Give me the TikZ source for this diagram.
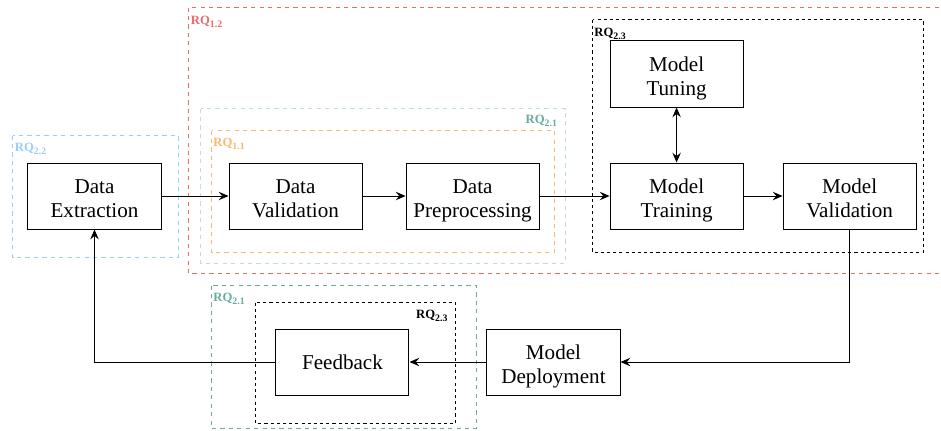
\documentclass[tikz,border=0pt]{standalone}
\usepackage{fontspec}
\setmainfont{Liberation Serif}
\usepackage{tikz}
\usetikzlibrary{arrows.meta,positioning}

\definecolor{RQred}{RGB}{234,107,102}
\definecolor{RQteal}{RGB}{103,171,159}
\definecolor{RQtealLight}{RGB}{190,222,216}
\definecolor{RQorange}{RGB}{255,181,112}
\definecolor{RQblue}{RGB}{153,204,255}

\newcommand{\rqlab}[1]{RQ\raisebox{-2.2pt}{\fontsize{7}{7}\selectfont #1}}
\newcommand{\twolines}[2]{\rule{0pt}{17.7pt}#1\\#2\rule[-4pt]{0pt}{4pt}}

\begin{document}
\begin{tikzpicture}[->,>={Stealth[length=7pt,width=6pt,inset=2.5pt]},auto,x=0.025cm,y=-0.025cm,line width=0.7pt,
  block/.style={draw,rectangle,minimum width=3.325cm,minimum height=1.65cm,
    inner sep=0pt,align=center,font=\fontsize{15}{16.6}\selectfont},
  rqframe/.style={-,line width=0.7pt,dash pattern=on 3pt off 3pt},
  rqblack/.style={-,line width=0.7pt,dash pattern=on 2.2pt off 2.2pt},
  rqlabel/.style={inner sep=0pt,font=\fontsize{9}{10}\selectfont\bfseries}]

\useasboundingbox (0,0) rectangle (941,430);

% research question frames
\draw[rqframe,RQred] (188.5,7.5) rectangle (960,273.5);
\draw[rqframe,RQtealLight] (200.5,108.5) rectangle (565.5,263.5);
\draw[rqframe,RQorange] (211.5,130.5) rectangle (554.5,252.5);
\draw[rqframe,RQblue] (12.5,135.5) rectangle (178.5,257.5);
\draw[rqblack] (592.5,19.5) rectangle (923.5,252.5);
\draw[rqframe,RQteal] (211.5,285.5) rectangle (476.5,428.5);
\draw[rqblack] (255.5,302.5) rectangle (455.5,423.5);

\node[rqlabel,RQred,anchor=north west] (L12) at (190.5,16) {\rqlab{1.2}};
\node[rqlabel,RQteal,anchor=north east] (L21a) at (557.5,115) {\rqlab{2.1}};
\node[rqlabel,RQorange,anchor=north west] (L11) at (213,137.5) {\rqlab{1.1}};
\node[rqlabel,RQblue,anchor=north west] (L22) at (14.5,143) {\rqlab{2.2}};
\node[rqlabel,anchor=north west] (L23a) at (594,27.5) {\rqlab{2.3}};
\node[rqlabel,RQteal,anchor=north west] (L21b) at (213,293) {\rqlab{2.1}};
\node[rqlabel,anchor=north east] (L23b) at (448,310) {\rqlab{2.3}};

% pipeline steps
\node[block] (ext) at (94.5,196) {\twolines{Data}{Extraction}};
\node[block] (dval) [right=1.675cm of ext] {\twolines{Data}{Validation}};
\node[block] (prep) [right=1.075cm of dval] {\twolines{Data}{Preprocessing}};
\node[block] (train) [right=1.75cm of prep] {\twolines{Model}{Training}};
\node[block] (mval) [right=0.975cm of train] {\twolines{Model}{Validation}};
\node[block] (tune) [above=1.375cm of train] {\twolines{Model}{Tuning}};
\node[block] (deploy) at (553.5,362) {\twolines{Model}{Deployment}};
\node[block] (feed) [left=1.925cm of deploy] {Feedback};

\path (ext) edge (dval)
      (dval) edge (prep)
      (prep) edge (train)
      (train) edge (mval)
      (tune) edge[<->] (train);

\draw (mval.south) |- (deploy.east);
\draw (deploy) -- (feed);
\draw (feed.west) -| (ext.south);

\end{tikzpicture}
\end{document}
